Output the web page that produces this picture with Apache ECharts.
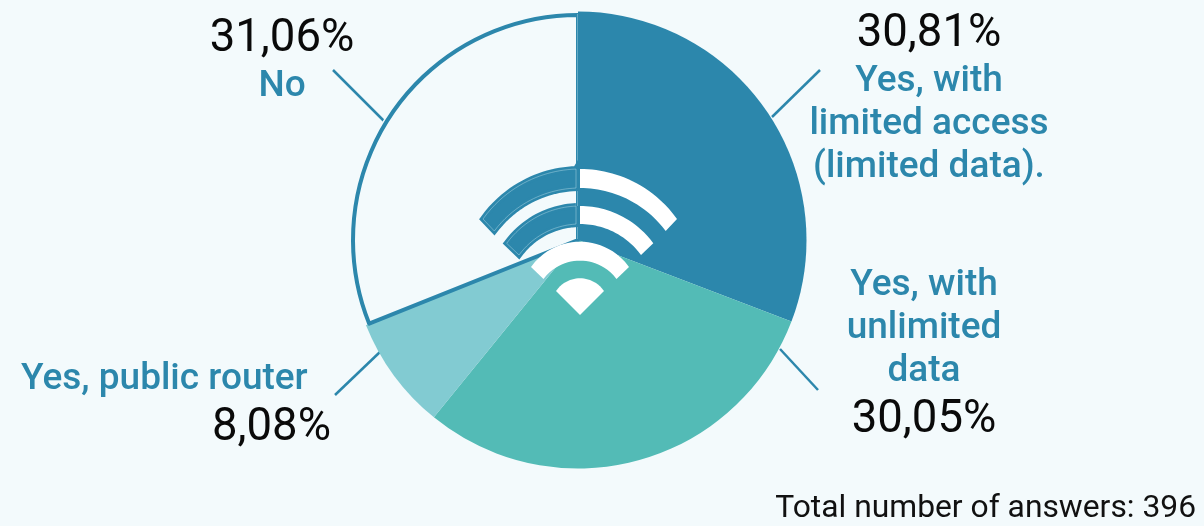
<!DOCTYPE html>
<html>
<head>
<meta charset="utf-8">
<style>html,body{margin:0;padding:0;background:#f3fafc}#c{width:1204px;height:526px}</style>
<script src="https://cdn.jsdelivr.net/npm/echarts@6/dist/echarts.min.js"></script>
</head>
<body>
<div id="c"></div>
<script>
// Share of answers per kind of internet access, clockwise from twelve o'clock
const answerLines = [
  ['Yes, with', 'limited access', '(limited data).'],
  ['Yes, with', 'unlimited', 'data'],
  ['Yes, public router'],
  ['No']
];
const shares = [30.81, 30.05, 8.08, 31.06];
const sliceColors = ['#2c87ac', '#53bbb6', '#82cbd2', '#f3fafc'];
const totalAnswers = 396;

const BLUE = '#2c87ac';
const BG = '#f3fafc';
const FONT = 'Roboto, sans-serif';

// Label anchor (centre of the text block) and the leader line for each slice
const labelAnchors = [
  { x: 929, y: 99.5, line: [[772, 117], [820, 70]] },
  { x: 924, y: 356, line: [[780, 349], [818, 390]] },
  { x: 176, y: 407, line: [[381, 351], [335, 395]] },
  { x: 282, y: 61.5, line: [[385, 122], [333, 70]] }
];

const pct = v => v.toFixed(2).replace('.', ',') + '%';

function labelText(i) {
  const value = pct(shares[i]);
  if (i === 2) return '{nl|' + answerLines[i][0] + '}\n{vr|' + value + '}';
  const names = answerLines[i].map(l => '{n|' + l + '}');
  if (i === 0 || i === 3) return ['{v|' + value + '}'].concat(names).join('\n');
  return names.concat(['{vb|' + value + '}']).join('\n');
}

// Wi-Fi symbol. Each band is bounded by two arcs given as
// [top y, horizontal reach from the axis, y at that reach].
const iconX = 580;
const iconApexY = 315;
const outerBand = { outer: [169, 97, 219], inner: [188, 85.7, 231] };
const middleBand = { outer: [206, 73.3, 243.3], inner: [224, 61, 255] };
const innerBand = { outer: [241.7, 49, 267], inner: [260.7, 36.5, 279] };
const dotArc = [278.3, 24, 291];

function arcPoints(arc, fromT, toT) {
  const topY = arc[0], reach = arc[1], tipY = arc[2];
  const h = tipY - topY;
  const r = (reach * reach + h * h) / (2 * h);
  const pts = [];
  for (let k = 0; k <= 24; k++) {
    const t = (fromT + (toT - fromT) * k / 24) * reach;
    pts.push([iconX + t, topY + r - Math.sqrt(r * r - t * t)]);
  }
  return pts;
}
// from/to are fractions of the arc's reach: -1 left tip, 0 axis, 1 right tip
function bandPoints(b, from, to) {
  return arcPoints(b.outer, from, to).concat(arcPoints(b.inner, to, from));
}
function poly(points, style, z) {
  return { type: 'polygon', silent: true, z: z, shape: { points: points }, style: style };
}
// Left halves stop a little short of the axis so the white right halves abut them
function leftHalf(b) {
  const shift = p => [Math.min(p[0], 576), p[1]];
  return bandPoints(b, -1, 0).map(shift);
}
const iconParts = [];
[outerBand, middleBand].forEach(b => {
  iconParts.push(poly(leftHalf(b), { fill: BLUE, stroke: BLUE, lineWidth: 6, lineJoin: 'miter' }, 10));
  iconParts.push(poly(leftHalf(b), { fill: 'none', stroke: 'rgba(200,232,240,0.4)', lineWidth: 1 }, 11));
  iconParts.push(poly(bandPoints(b, 0, 1).map(p => [Math.max(p[0], 579), p[1]]), { fill: '#ffffff' }, 12));
});
iconParts.push(poly(bandPoints(innerBand, -1, 1), { fill: '#ffffff' }, 12));
iconParts.push(poly(arcPoints(dotArc, -1, 1).concat([[iconX, iconApexY]]), { fill: '#ffffff' }, 12));
// Hairline along the twelve o'clock edge
iconParts.push({
  type: 'line', silent: true, z: 9,
  shape: { x1: 577.5, y1: 14, x2: 577.5, y2: 239 },
  style: { stroke: 'rgba(200,232,240,0.35)', lineWidth: 1 }
});

const chart = echarts.init(document.getElementById('c'), null, { renderer: 'canvas' });
chart.setOption({
  backgroundColor: BG,
  animation: false,
  textStyle: { fontFamily: FONT },
  title: {
    text: 'Total number of answers: ' + totalAnswers,
    right: 8, top: 493, padding: 0,
    textStyle: { fontFamily: FONT, fontSize: 31.8, fontWeight: 400, color: '#111111' }
  },
  series: [{
    // Filled slices with the labels and leader lines
    type: 'pie',
    center: [578, 240],
    radius: [0, 228.5],
    startAngle: 90,
    clockwise: true,
    silent: true,
    avoidLabelOverlap: false,
    data: shares.map((v, i) => ({
      value: v,
      name: answerLines[i].join(' '),
      itemStyle: { color: sliceColors[i], borderWidth: 0 }
    })),
    label: {
      show: true,
      position: 'outside',
      formatter: p => labelText(p.dataIndex),
      rich: {
        v: { fontFamily: FONT, fontSize: 45.5, lineHeight: 50, color: '#0a0a0a', align: 'center' },
        vb: { fontFamily: FONT, fontSize: 45.5, lineHeight: 54, color: '#0a0a0a', align: 'center' },
        vr: { fontFamily: FONT, fontSize: 45.5, lineHeight: 54, color: '#0a0a0a', align: 'left', padding: [0, 0, 0, 191] },
        n: { fontFamily: FONT, fontSize: 37, fontWeight: 500, lineHeight: 43, color: BLUE, align: 'center' },
        nl: { fontFamily: FONT, fontSize: 37, fontWeight: 500, lineHeight: 43, color: BLUE, align: 'left' }
      }
    },
    labelLine: { show: true, lineStyle: { color: BLUE, width: 2.5 } },
    labelLayout: params => {
      const a = labelAnchors[params.dataIndex];
      return { x: a.x, y: a.y, align: 'center', verticalAlign: 'middle', labelLinePoints: [a.line[0], a.line[1], a.line[1]] };
    }
  }, {
    // Outline of the unfilled "No" slice, held just inside the pie's edge
    type: 'pie',
    center: [578, 240],
    radius: [0, 225],
    startAngle: 90,
    clockwise: true,
    silent: true,
    label: { show: false },
    labelLine: { show: false },
    data: shares.map((v, i) => ({
      value: v,
      name: answerLines[i].join(' '),
      itemStyle: i === 3
        ? { color: BG, borderColor: BLUE, borderWidth: 4 }
        : { color: 'transparent', borderWidth: 0 }
    }))
  }],
  graphic: { elements: iconParts }
});
</script>
</body>
</html>
